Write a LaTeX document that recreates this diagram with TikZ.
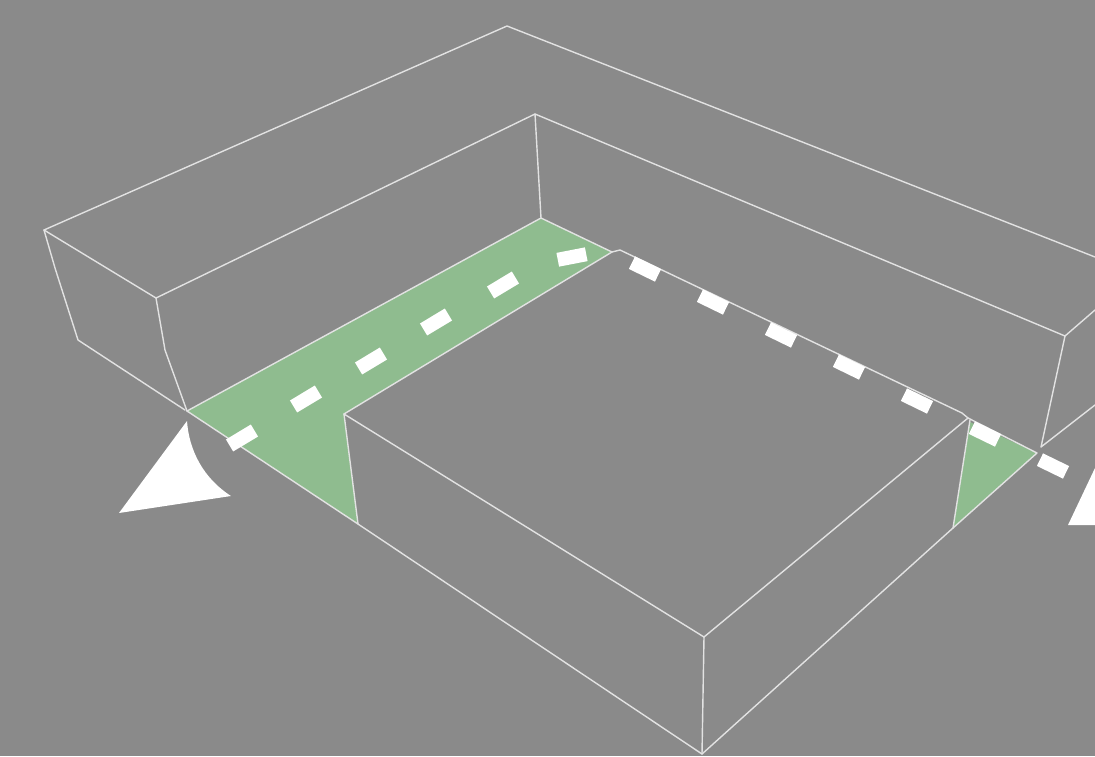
\documentclass[tikz,border=0pt]{standalone}
\tikzset{
  edge/.style={draw=linegray,line width=1.4pt,line join=round,line cap=round},
  greenzone/.style={fill=zonegreen},
  marker/.style={fill=white},
}
\definecolor{bggray}{HTML}{8A8A8A}
\definecolor{linegray}{HTML}{E2E2E2}
\definecolor{zonegreen}{HTML}{8FBC8F}
\newcommand{\dashseg}[3]{\fill[marker,shift={(#1,#2)},rotate=#3] (-14.5,-7) rectangle (14.5,7);}
\begin{document}
\begin{tikzpicture}[x=1pt,y=-1pt]
\useasboundingbox (0,0) rectangle (1095,756);
\fill[bggray] (0,0) rectangle (1095,756);
% green zones
\fill[greenzone] (187,411) -- (541,218) -- (612,252) -- (344,414) -- (358,524) -- cycle;
\fill[greenzone] (970,422) -- (1037,453) -- (953,528) -- cycle;
% upper block
\draw[edge] (1095,257) -- (507,26) -- (44,230) -- (156,298) -- (535,114) -- (1065,336) -- (1095,310);
\draw[edge] (44,230) -- (55,268) -- (78,340) -- (185,410);
\draw[edge] (156,298) -- (165,350) -- (187,411);
\draw[edge] (535,114) -- (541,218);
\draw[edge] (1065,336) -- (1041,447) -- (1095,405);
% green edges
\draw[edge] (187,411) -- (541,218) -- (612,252) -- (344,414);
\draw[edge] (612,252) -- (620,250) -- (962,413) -- (968,418) -- (704,637);
\draw[edge] (968,418) -- (1037,453) -- (953,528);
\draw[edge] (970,420) -- (953,528);
% lower block
\draw[edge] (344,414) -- (704,637) -- (702,754);
\draw[edge] (344,414) -- (358,524);
\draw[edge] (187,411) -- (358,524) -- (702,754) -- (953,528);
% dashes
\dashseg{242}{438}{31}
\dashseg{306}{399}{31}
\dashseg{371}{361}{31}
\dashseg{436}{322}{31}
\dashseg{503}{285}{31}
\dashseg{572}{257}{11}
\dashseg{645}{269}{-26}
\dashseg{713}{302}{-26}
\dashseg{781}{335}{-26}
\dashseg{849}{367}{-26}
\dashseg{917}{401}{-26}
\dashseg{985}{434}{-26}
\dashseg{1053}{466}{-26}
% arrows
\fill[marker] (187,421) .. controls (189,450) and (203,478) .. (231,496) -- (119,513) -- cycle;
\fill[marker] (1095,468) -- (1068,525) -- (1095,525) -- cycle;
\end{tikzpicture}
\end{document}
